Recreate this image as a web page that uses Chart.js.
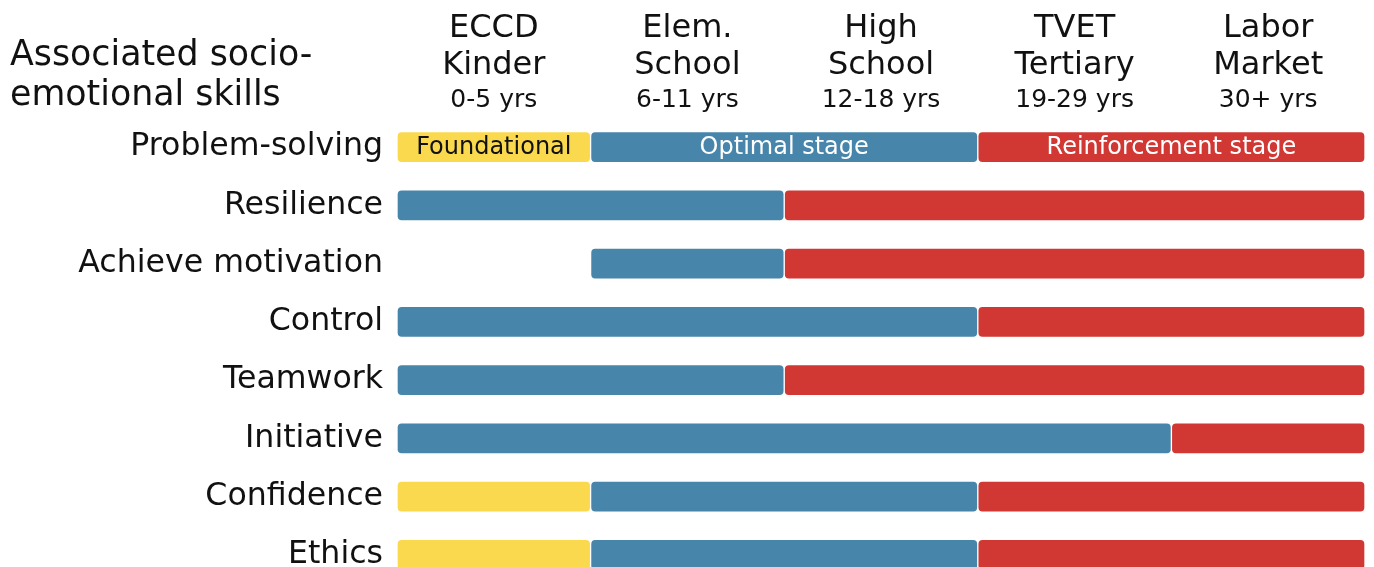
<!DOCTYPE html>
<html>
<head>
<meta charset="utf-8">
<script src="https://cdn.jsdelivr.net/npm/chart.js@4"></script>
<style>
  html, body { margin: 0; padding: 0; background: #fff; overflow: hidden; }
  #wrap { width: 1374px; height: 617px; }
  canvas { display: block; }
</style>
</head>
<body>
<div id="wrap"><canvas id="c" width="1374" height="617"></canvas></div>
<script>
// ---- data ----
const skills = ["Problem-solving", "Resilience", "Achieve motivation", "Control", "Teamwork", "Initiative", "Confidence", "Ethics"];
const stageNames = [["ECCD", "Kinder"], ["Elem.", "School"], ["High", "School"], ["TVET", "Tertiary"], ["Labor", "Market"]];
const stageAges = ["0-5 yrs", "6-11 yrs", "12-18 yrs", "19-29 yrs", "30+ yrs"];
const titleLines = ["Associated socio-", "emotional skills"];
const seriesNames = ["Foundational", "Optimal stage", "Reinforcement stage"];
const foundational = [[0, 1], null, null, null, null, null, [0, 1], [0, 1]];
const optimal = [[1, 3], [0, 2], [1, 2], [0, 3], [0, 2], [0, 4], [1, 3], [1, 3]];
const reinforcement = [[3, 5], [2, 5], [2, 5], [3, 5], [2, 5], [4, 5], [3, 5], [3, 5]];

const FONT = "'DejaVu Sans', sans-serif";
const colors = ["#FAD94E", "#4786AA", "#D13733"];
const labelColors = ["#111111", "#ffffff", "#ffffff"];

const headerPlugin = {
  id: "headers",
  afterDraw(chart) {
    const ctx = chart.ctx;
    const xs = chart.scales.x;
    ctx.save();
    ctx.fillStyle = "#111";
    ctx.textAlign = "left";
    ctx.textBaseline = "alphabetic";
    ctx.font = "34.8px " + FONT;
    ctx.fillText(titleLines[0], 10, 65);
    ctx.fillText(titleLines[1], 10, 105);
    ctx.textAlign = "center";
    stageNames.forEach((lines, i) => {
      const cx = xs.getPixelForValue(i + 0.5);
      ctx.font = "32px " + FONT;
      ctx.fillText(lines[0], cx, 37);
      ctx.fillText(lines[1], cx, 74);
      ctx.font = "25px " + FONT;
      ctx.fillText(stageAges[i], cx, 107);
    });
    ctx.restore();
  },
  afterDatasetsDraw(chart) {
    const ctx = chart.ctx;
    ctx.save();
    ctx.font = "24px " + FONT;
    ctx.textAlign = "center";
    ctx.textBaseline = "middle";
    chart.data.datasets.forEach((ds, d) => {
      const el = chart.getDatasetMeta(d).data[0];
      if (!el || ds.data[0] == null) return;
      ctx.fillStyle = labelColors[d];
      ctx.fillText(seriesNames[d], (el.x + el.base) / 2, el.y + 1);
    });
    ctx.restore();
  }
};

const mk = (data, i) => ({
  label: seriesNames[i],
  data: data,
  backgroundColor: colors[i],
  borderColor: "#ffffff",
  borderWidth: 1,
  borderSkipped: false,
  borderRadius: 5,
  barThickness: 31,
  grouped: false
});

new Chart(document.getElementById("c"), {
  type: "bar",
  data: {
    labels: skills,
    datasets: [mk(foundational, 0), mk(optimal, 1), mk(reinforcement, 2)]
  },
  options: {
    indexAxis: "y",
    responsive: false,
    animation: false,
    maintainAspectRatio: false,
    layout: { padding: { top: 118, bottom: 0, left: 0, right: 9 } },
    plugins: { legend: { display: false }, tooltip: { enabled: false }, title: { display: false } },
    scales: {
      x: { min: 0, max: 5, display: false, grid: { display: false } },
      y: {
        grid: { display: false, drawTicks: false },
        border: { display: false },
        ticks: { color: "#111", font: { family: FONT, size: 31.6 }, padding: 14 },
        afterFit(scale) { scale.width = 397; }
      }
    }
  },
  plugins: [headerPlugin]
});
</script>
</body>
</html>
